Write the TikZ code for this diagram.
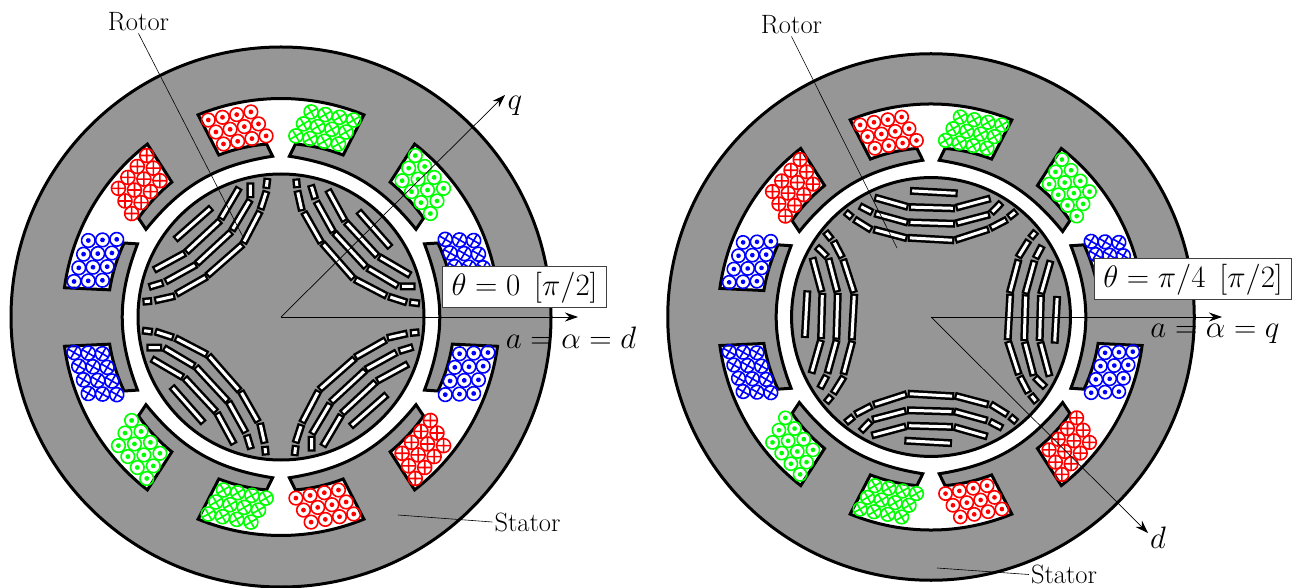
\documentclass[tikz,border=0pt]{standalone}
\usepackage{fix-cm}
\usepackage{amssymb, amsmath}
\usepackage{tikz}
\usetikzlibrary{calc,arrows.meta}
\usepackage{xcolor}
\definecolor{irongray}{RGB}{150,150,150}
\newcommand{\smalllbl}{\fontsize{26.5}{30}\selectfont}
\newcommand{\biglbl}{\fontsize{31}{36}\selectfont}

\begin{document}
\begin{tikzpicture}[x=1pt,y=1pt]
    \tikzstyle{iron}=[draw=black,line width=3pt,fill=irongray]
    \tikzstyle{air}=[draw=black,line width=3pt,fill=white,line join=miter]
    \tikzstyle{coil}=[line width=1.6pt]
    \tikzstyle{barrier out}=[black,line width=8pt]
    \tikzstyle{barrier in}=[white,line width=3pt,shorten >=2.2pt,shorten <=2.2pt]
    \tikzstyle{leader}=[black,line width=.6pt]
    \tikzstyle{axis}=[black,line width=.7pt,-{Stealth[length=13pt,width=9pt]}]
    \tikzstyle{small label}=[inner sep=2pt,font=\smalllbl]
    \tikzstyle{big label}=[inner sep=0pt,font=\biglbl]
    \tikzstyle{angle box}=[draw=black!75,line width=1pt,fill=white,inner xsep=9pt,inner ysep=0pt,minimum height=41pt,font=\biglbl]
    \useasboundingbox (0,0) rectangle (1301,587);

% both machines
\foreach \cx/\sc/\rot in {281/1/-45.5,931/.975/0}{
\begin{scope}[shift={(\cx,270)},scale=\sc]
    % stator
    \path[iron] (0,0) circle[radius=270];
    \path[air] (27:161)
        \foreach \a in {30,90,...,330}{
            -- ({\a-4.75}:173.5) arc[start angle=\a-4.75,end angle=\a-21,radius=173.5]
            -- ({\a-22.3}:218.5) arc[start angle=\a-22.3,end angle=\a+22.3,radius=218.5]
            -- ({\a+21}:173.5) arc[start angle=\a+21,end angle=\a+4.75,radius=173.5]
            -- ({\a+3}:161) to[bend right=21] ({\a+57}:161)
        } -- cycle;
    % windings
    \foreach \a/\colccw/\colcw in {90/red/green,30/green/blue,-30/blue/red,-90/red/green,-150/green/blue,150/blue/red}{
        \begin{scope}[rotate=\a-90]
            \foreach \i in {0,...,3}{
                \foreach \j in {0,...,2}{
                    \draw[coil,\colccw] ({-72.7+14.2*\i+7.6*\j},{197+2.7*\i-12*\j}) circle[radius=6.8];
                    \fill[\colccw] ({-72.7+14.2*\i+7.6*\j},{197+2.7*\i-12*\j}) circle[radius=2.4];
                    \draw[coil,\colcw] ({72.7-14.2*\i-7.6*\j},{197+2.7*\i-12*\j}) circle[radius=7]
                        +(30:7) -- +(210:7) +(120:7) -- +(300:7);
                }
            }
        \end{scope}
    }
    % rotor
    \path[iron] (0,0) circle[radius=143];
    \foreach \k in {0,...,3}{
        \begin{scope}[rotate=\rot+90*\k,scale=1.025]
            \foreach \ax/\ay/\bx/\by in {
                -21/126.3/26.7/123.7,
                -56.7/119.7/-22.7/110, -22/110/24/108.7, 24.7/109.3/59.7/118.7,
                -71.7/111.3/-58.3/104.3, -56.7/103.7/-22.7/94.3, -22.7/94.7/24/93.3, 24.7/93.7/59/102.7, 60/103.7/70.7/114.7,
                -86/105.3/-78.7/99.3, -77/98/-59.3/87, -57.7/87.7/-23.7/78.7, -23.3/79.3/23.3/76.7,
                24/77/58/88, 59/88.7/76.3/97.7, 77.3/99.3/85.7/106}{
                \draw[barrier out] (\ax,\ay) -- (\bx,\by);
                \draw[barrier in] (\ax,\ay) -- (\bx,\by);
            }
        \end{scope}
    }
\end{scope}
}

% left machine labels
\coordinate (cL) at (281,270);
\coordinate (qL) at (505,492);
\coordinate (aL) at (578,270);
\coordinate (rotL) at (243,350);
\coordinate (statL) at (398,72);
\draw[axis] (cL) -- (qL);
\draw[axis] (cL) -- (aL);
\node[small label] (rotorL) at (138.5,565) {Rotor};
\node[small label] (statorL) at (527.5,65) {Stator};
\draw[leader] (rotorL.south) -- (rotL);
\draw[leader] (statL) -- (statorL.west);
\node[big label] (qtxtL) at (515,481) {$q$};
\node[big label] (atxtL) at (571,249) {$a=\alpha=d$};
\node[angle box] (thetaL) at (524.5,299.5) {$\theta=0\hspace{14pt}[\pi/2]$};

% right machine labels
\coordinate (cR) at (931,270);
\coordinate (dR) at (1148,54);
\coordinate (aR) at (1222,270);
\coordinate (rotR) at (897,339);
\coordinate (statR) at (937,19);
\draw[axis] (cR) -- (dR);
\draw[axis] (cR) -- (aR);
\node[small label] (rotorR) at (791.5,562) {Rotor};
\node[small label] (statorR) at (1064,12.5) {Stator};
\draw[leader] (rotorR.south) -- (rotR);
\draw[leader] (statR) -- (statorR.west);
\node[big label] (dtxtR) at (1158,49) {$d$};
\node[big label] (atxtR) at (1215,253) {$a=\alpha=q$};
\node[angle box] (thetaR) at (1193,307.5) {$\theta=\pi/4\hspace{14pt}[\pi/2]$};
\end{tikzpicture}
\end{document}
